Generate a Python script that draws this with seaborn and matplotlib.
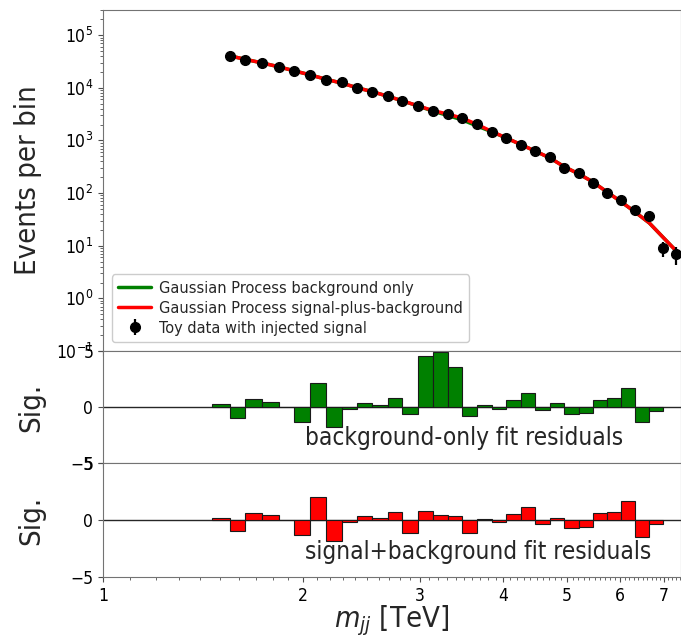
import numpy as np
import matplotlib
matplotlib.use("Agg")
import matplotlib.pyplot as plt
import matplotlib.ticker as mticker
import seaborn as sns

# --- toy dijet spectrum -------------------------------------------------------
# dijet invariant mass of each toy-data point [TeV]
mjj = [1.553, 1.639, 1.735, 1.840, 1.940, 2.053, 2.167, 2.292, 2.411, 2.545,
       2.685, 2.824, 2.978, 3.137, 3.304, 3.478, 3.661, 3.849, 4.048, 4.256,
       4.476, 4.708, 4.947, 5.205, 5.461, 5.733, 6.022, 6.323, 6.648, 6.970,
       7.295]
# events per bin (toy data with an injected signal near 3.3 TeV)
events = [40200, 34200, 30000, 24600, 21200, 17600, 14300, 12600, 9870, 8410,
          6920, 5690, 4570, 3590, 3230, 2700, 2030, 1430, 1120, 830,
          640, 492, 305, 238, 155, 101, 74, 48, 36, 9,
          7]

# Gaussian-process fit curves, evaluated on the data points plus one point past the range
fit_mjj = [1.553, 1.639, 1.735, 1.840, 1.940, 2.053, 2.167, 2.292, 2.411, 2.545,
           2.685, 2.824, 2.978, 3.137, 3.304, 3.478, 3.661, 3.849, 4.048, 4.256,
           4.476, 4.708, 4.947, 5.205, 5.461, 5.733, 6.022, 6.323, 6.648, 6.970,
           7.295, 7.600]
fit_bkg = [40300, 34600, 29700, 25000, 21000, 17500, 14500, 12200, 10050, 8420,
           6890, 5650, 4520, 3620, 2975, 2445, 1870, 1460, 1110, 838,
           626, 466, 318, 231, 164, 106, 69, 44, 27, 14.5,
           8.0, 4.9]
fit_sb = [40300, 34600, 29700, 25000, 21000, 17500, 14500, 12200, 10050, 8420,
          6890, 5660, 4560, 3700, 3170, 2640, 2010, 1480, 1115, 838,
          626, 466, 318, 231, 164, 106, 69, 44, 27, 14.5,
          8.0, 4.9]

# significance of the residuals, one bar per bin
resid_first_edge = 1.461
resid_bkg = [0.24, -0.94, 0.68, 0.47, 0.0, -1.33, 2.15, -1.77, -0.18, 0.38,
             0.21, 0.77, -0.59, 4.51, 4.95, 3.60, -0.83, 0.15, -0.15, 0.62,
             1.24, -0.24, 0.32, -0.59, -0.50, 0.62, 0.80, 1.68, -1.36, -0.32]
resid_sb = [0.20, -0.95, 0.60, 0.46, 0.0, -1.30, 2.04, -1.82, -0.15, 0.36,
            0.20, 0.66, -1.15, 0.75, 0.46, 0.36, -1.16, 0.07, -0.17, 0.52,
            1.10, -0.32, 0.20, -0.69, -0.63, 0.58, 0.66, 1.64, -1.45, -0.36]

x_ticks = [1, 2, 3, 4, 5, 6, 7]
x_range = (1.0, 7.42)

# --- style --------------------------------------------------------------------
sns.set_style("ticks")
plt.rcParams["font.family"] = ["DejaVu Sans"]
plt.rcParams["font.stretch"] = "condensed"
plt.rcParams["axes.edgecolor"] = "0.45"
plt.rcParams["xtick.color"] = "0.3"
plt.rcParams["ytick.color"] = "0.3"
plt.rcParams["xtick.labelcolor"] = "black"
plt.rcParams["ytick.labelcolor"] = "black"

W, H = 681, 641
fig = plt.figure(figsize=(W / 100, H / 100), dpi=100)

def frac_box(left_px, top_px, right_px, bottom_px):
    return [left_px / W, 1 - bottom_px / H, (right_px - left_px) / W,
            (bottom_px - top_px) / H]

ax0 = fig.add_axes(frac_box(103, 10, 681, 351))
ax1 = fig.add_axes(frac_box(103, 351, 681, 463), sharex=ax0)
ax2 = fig.add_axes(frac_box(103, 463, 681, 577), sharex=ax0)

# --- spectrum panel -----------------------------------------------------------
ax0.set_xscale("log")
ax0.set_yscale("log")
sns.lineplot(x=fit_mjj, y=fit_bkg, ax=ax0, color="#008000", lw=2.5,
             label="Gaussian Process background only", zorder=2)
sns.lineplot(x=fit_mjj, y=fit_sb, ax=ax0, color="#ff0000", lw=2.5,
             label="Gaussian Process signal-plus-background", zorder=2.5)
data_err = np.sqrt(np.asarray(events, dtype=float))
eb = ax0.errorbar(mjj, events, yerr=data_err, fmt="o", color="black", ms=7,
                  elinewidth=1.6, capsize=0, zorder=3,
                  label="Toy data with injected signal")
ax0.set_ylim(0.1, 3e5)
ax0.set_ylabel("Events per bin", fontsize=21)
ax0.yaxis.set_label_coords(-0.105, 0.5)
h, l = ax0.get_legend_handles_labels()
leg = ax0.legend(h, l, loc="lower left", fontsize=11.7, frameon=True,
                 fancybox=True, edgecolor="0.8", framealpha=1.0,
                 labelspacing=0.3, handletextpad=0.5, borderpad=0.4,
                 borderaxespad=0.55)

# --- residual panels ----------------------------------------------------------
edges = np.array([resid_first_edge] + mjj[:len(resid_bkg)])
left = edges[:-1]
widths = np.diff(edges)

panels = [(ax1, resid_bkg, "#008000", "background-only fit residuals"),
          (ax2, resid_sb, "#ff0000", "signal+background fit residuals")]
for ax, resid, col, txt in panels:
    ax.axhline(0, color="0.15", lw=1.0, zorder=1)
    ax.bar(left, resid, width=widths, align="edge", color=col,
           edgecolor="0.1", linewidth=0.8, zorder=2)
    ax.set_ylim(-5, 5)
    ax.set_yticks([-5, 0, 5])
    ax.set_ylabel("Sig.", fontsize=21)
    ax.yaxis.set_label_coords(-0.10, 0.5)
    ax.text(0.349, 0.22, txt, transform=ax.transAxes, fontsize=17.5,
            ha="left", va="center")

# --- shared mass axis ---------------------------------------------------------
ax0.set_xlim(*x_range)
ax2.xaxis.set_major_locator(mticker.FixedLocator(x_ticks))
ax2.xaxis.set_major_formatter(mticker.FormatStrFormatter("%g"))
ax2.xaxis.set_minor_locator(mticker.MultipleLocator(0.1))
ax2.xaxis.set_minor_formatter(mticker.NullFormatter())
ax2.set_xlabel("$m_{jj}$ [TeV]", fontsize=21, labelpad=-1)
for ax in (ax0, ax1):
    ax.tick_params(axis="x", labelbottom=False)
for ax in (ax0, ax1, ax2):
    ax.tick_params(axis="both", which="major", labelsize=12.5, length=3.5)
    ax.tick_params(axis="both", which="minor", length=2)

fig.savefig("out.png", dpi=100)
